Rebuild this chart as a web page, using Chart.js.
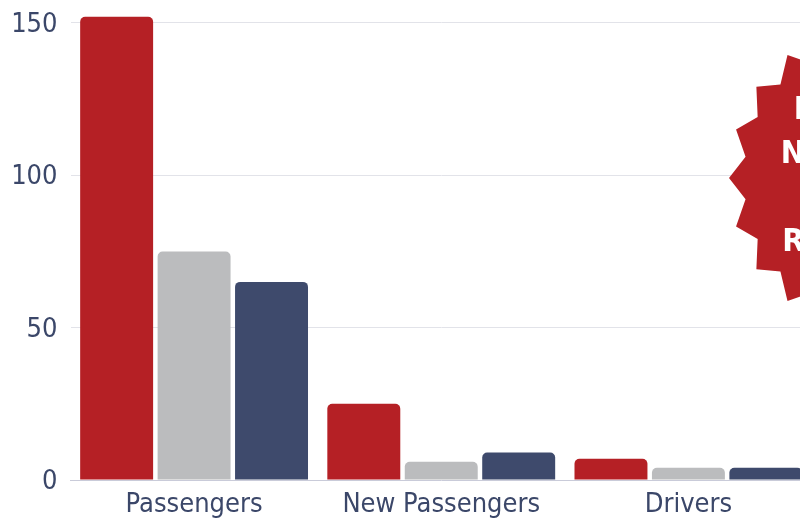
<!DOCTYPE html>
<html>
<head>
<meta charset="utf-8">
<title>Riders by group</title>
<script src="https://cdn.jsdelivr.net/npm/chart.js@4/dist/chart.umd.min.js"></script>
<style>
  html, body { margin: 0; padding: 0; background: #ffffff; overflow: hidden; }
  #wrap { position: relative; width: 812px; height: 521px; }
</style>
</head>
<body>
<div id="wrap"><canvas id="chart" width="812" height="521"></canvas></div>
<script>
// Categories along the x axis
const categories = ['Passengers', 'New Passengers', 'Drivers'];

// One value per category for each of the three series
const seriesRed  = [152, 25, 7];
const seriesGrey = [75, 6, 4];
const seriesNavy = [65, 9, 4];

// Labelled ticks on the value axis
const yTickValues = [0, 50, 100, 150];

// Text of the starburst badge, one entry per line
const badgeLines = ['NEWS', 'NEARLY', '2X', 'RIDERS'];

const TEXT = '#3b4769';
const FONT = "'DejaVu Sans Condensed', 'DejaVu Sans', Verdana, sans-serif";

// Red starburst with bold white lines of text, drawn over the plot
const badgePlugin = {
  id: 'badge',
  afterDraw(chart) {
    const ctx = chart.ctx;
    const cx = 846, cy = 178;
    const points = 18;
    const ro = { x: 117, y: 142 };
    const ri = { x: 102, y: 122 };
    ctx.save();
    ctx.beginPath();
    for (let i = 0; i < points * 2; i++) {
      const a = Math.PI + (i * Math.PI) / points;
      const r = i % 2 === 0 ? ro : ri;
      const x = cx + r.x * Math.cos(a);
      const y = cy + r.y * Math.sin(a);
      if (i === 0) ctx.moveTo(x, y); else ctx.lineTo(x, y);
    }
    ctx.closePath();
    ctx.fillStyle = '#b52025';
    ctx.fill();
    ctx.fillStyle = '#ffffff';
    ctx.font = "bold 32px " + FONT;
    ctx.textAlign = 'center';
    ctx.textBaseline = 'middle';
    badgeLines.forEach((t, i) => ctx.fillText(t, cx - 4, 111 + i * 44));
    ctx.restore();
  }
};

new Chart(document.getElementById('chart'), {
  type: 'bar',
  data: {
    labels: categories,
    datasets: [
      { data: seriesRed,  backgroundColor: '#b52025' },
      { data: seriesGrey, backgroundColor: '#bbbcbe' },
      { data: seriesNavy, backgroundColor: '#3e4a6c' }
    ]
  },
  options: {
    responsive: false,
    animation: false,
    devicePixelRatio: 1,
    layout: { padding: 0 },
    datasets: {
      bar: {
        categoryPercentage: 0.94,
        barPercentage: 0.942,
        borderRadius: 5,
        borderSkipped: 'start'
      }
    },
    plugins: {
      legend: { display: false },
      tooltip: { enabled: false }
    },
    scales: {
      x: {
        grid: { display: false, drawTicks: false },
        border: { display: true, color: '#c9cbd9', width: 1 },
        ticks: { color: TEXT, font: { family: FONT, size: 27 }, padding: 9, maxRotation: 0 },
        afterFit(scale) {
          scale.height = 41;
          scale.paddingLeft = 0;
          scale.paddingRight = 0;
        }
      },
      y: {
        min: 0,
        max: 157.5,
        grid: {
          drawTicks: false,
          color: ctx => (ctx.tick && ctx.tick.value === 0 ? 'rgba(0,0,0,0)' : '#e2e3e9'),
          lineWidth: 1
        },
        border: { display: false },
        ticks: {
          color: TEXT,
          font: { family: FONT, size: 27 },
          padding: 13,
          labelOffset: 2
        },
        afterBuildTicks(scale) {
          scale.ticks = yTickValues.map(v => ({ value: v }));
        },
        afterFit(scale) {
          scale.width = 70.5;
          scale.paddingTop = 0;
          scale.paddingBottom = 0;
        }
      }
    }
  },
  plugins: [badgePlugin]
});
</script>
</body>
</html>
